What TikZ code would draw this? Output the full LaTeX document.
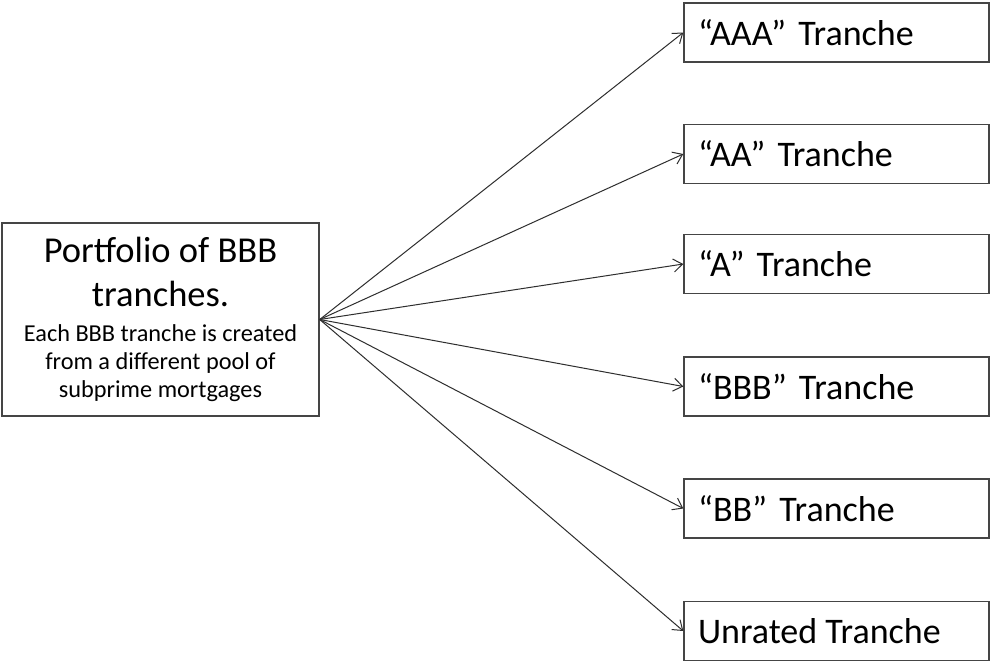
\documentclass[tikz,border=0pt]{standalone}
\usepackage{fontspec}
\setmainfont{Carlito}
\usetikzlibrary{arrows.meta}
\definecolor{boxgray}{HTML}{454545}
\definecolor{linegray}{HTML}{2E2E2E}
\newcommand{\qgap}{\kern4pt}
\begin{document}
\begin{tikzpicture}[x=1pt,y=-1pt,
  srcbox/.style={draw=boxgray, line width=1.4pt, fill=white, inner sep=0pt,
    minimum width=317pt, minimum height=193pt, text width=316pt, align=flush center},
  trbox/.style={draw=boxgray, line width=1.4pt, fill=white, inner sep=0pt,
    minimum width=305pt, minimum height=59pt, text width=277pt, align=flush left,
    font=\fontsize{36}{40}\selectfont},
  link/.style={draw=linegray, line width=1pt, -{Straight Barb[length=9pt,width=13pt]}}]
\useasboundingbox (0,0) rectangle (990,661);
\fill[white] (0,0) rectangle (990,661);
\node[srcbox] (src) at (160.5,319.5) {\vspace{2pt}{\fontsize{36.5}{42}\selectfont Portfolio of BBB\\tranches.\par}\vspace{7pt}{\fontsize{24.3}{28}\selectfont Each BBB tranche is created\\from a different pool of\\subprime mortgages\par}};
\node[trbox] (aaa) at (836.5,32.5) {“AAA”\qgap{} Tranche};
\node[trbox] (aa) at (836.5,154) {“AA”\qgap{} Tranche};
\node[trbox] (a) at (836.5,264) {“A”\qgap{} Tranche};
\node[trbox] (bbb) at (836.5,386.5) {“BBB”\qgap{} Tranche};
\node[trbox] (bb) at (836.5,508.5) {“BB”\qgap{} Tranche};
\node[trbox] (unr) at (836.5,631) {Unrated Tranche};
\foreach \t in {aaa,aa,a,bbb,bb,unr}
  \draw[link] (src.east) -- (\t.west);
\end{tikzpicture}
\end{document}
